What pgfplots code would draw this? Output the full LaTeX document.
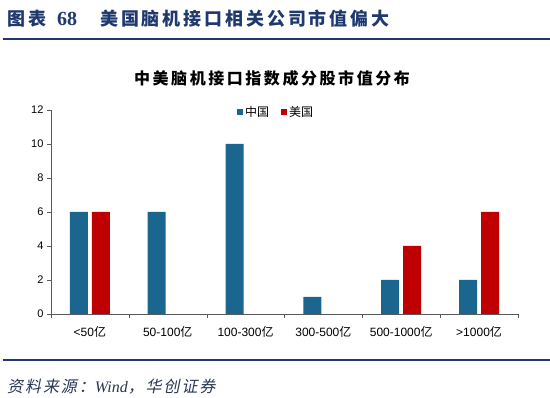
\documentclass[border=0pt]{standalone}
\usepackage{fontspec}
\usepackage{pgfplots}
\pgfplotsset{compat=1.18}
\setmainfont{Liberation Sans}
\newfontfamily\cjk{Noto Sans CJK SC}
\newfontfamily\cjkhead{Noto Sans CJK SC}[LetterSpace=16]
\newfontfamily\cjkfoot{Noto Sans CJK SC}[FakeSlant=0.2,LetterSpace=12]
\newfontfamily\serifit{Liberation Serif}
\definecolor{headblue}{RGB}{31,56,110}
\definecolor{cnblue}{RGB}{26,102,142}
\definecolor{usred}{RGB}{192,0,0}
\definecolor{footcol}{RGB}{40,55,85}
\begin{document}
\begin{tikzpicture}
\useasboundingbox (0,0) rectangle (550pt,398pt);
% header
\node[anchor=base west, inner sep=0, text=headblue] at (7pt,372pt) {\fontsize{18}{18}\selectfont\cjkhead\bfseries 图表};
\node[anchor=base west, inner sep=0, text=headblue] at (57pt,372pt) {\fontsize{20}{20}\selectfont\serifit\bfseries 68};
\node[anchor=base west, inner sep=0, text=headblue] at (100pt,372pt) {\fontsize{18}{18}\selectfont\cjkhead\bfseries 美国脑机接口相关公司市值偏大};
\draw[headblue, line width=2pt] (3pt,359pt) -- (550pt,359pt);
% title
\node[anchor=center, inner sep=0] at (272pt,320pt) {\fontsize{16}{16}\selectfont\cjkhead\bfseries 中美脑机接口指数成分股市值分布};
\begin{axis}[
  at={(51pt,84pt)}, anchor=south west,
  scale only axis, width=467pt, height=204pt,
  xmin=-0.5, xmax=5.5, ymin=0, ymax=12,
  axis lines=left, axis line style={-, draw=black!65},
  ytick={0,2,...,12},
  xtick={-0.5,0.5,...,5.5},
  x tick label as interval,
  xticklabels={<50{\cjk 亿},50-100{\cjk 亿},100-300{\cjk 亿},300-500{\cjk 亿},500-1000{\cjk 亿},>1000{\cjk 亿}},
  tick align=outside, major tick length=4pt,
  tick style={draw=black!65},
  yticklabel style={font=\fontsize{11}{11}\selectfont},
  xticklabel style={font=\fontsize{12}{12}\selectfont, yshift=-5pt},
  /pgf/number format/assume math mode=true,
  ybar=4pt, bar width=18pt,
  legend style={draw=none, at={(0.482,0.99)}, anchor=center, font=\fontsize{12}{12}\selectfont\cjk, legend columns=2,
    /tikz/every even column/.append style={column sep=10pt}},
  legend image code/.code={\fill[#1] (0pt,-3pt) rectangle (6pt,3pt);},
]
\addplot[fill=cnblue, draw=none] coordinates {(0,6) (1,6) (2,10) (3,1) (4,2) (5,2)};
\addlegendentry{中国}
\addplot[fill=usred, draw=none] coordinates {(0,6) (4,4) (5,6)};
\addlegendentry{美国}
\end{axis}
% footer
\draw[headblue, line width=2pt] (3pt,38pt) -- (550pt,38pt);
\node[anchor=base west, inner sep=0, text=footcol] at (7pt,5pt) {\fontsize{16}{16}\selectfont\cjkfoot 资料来源：{\serifit\itshape Wind}，华创证券};
\end{tikzpicture}
\end{document}
